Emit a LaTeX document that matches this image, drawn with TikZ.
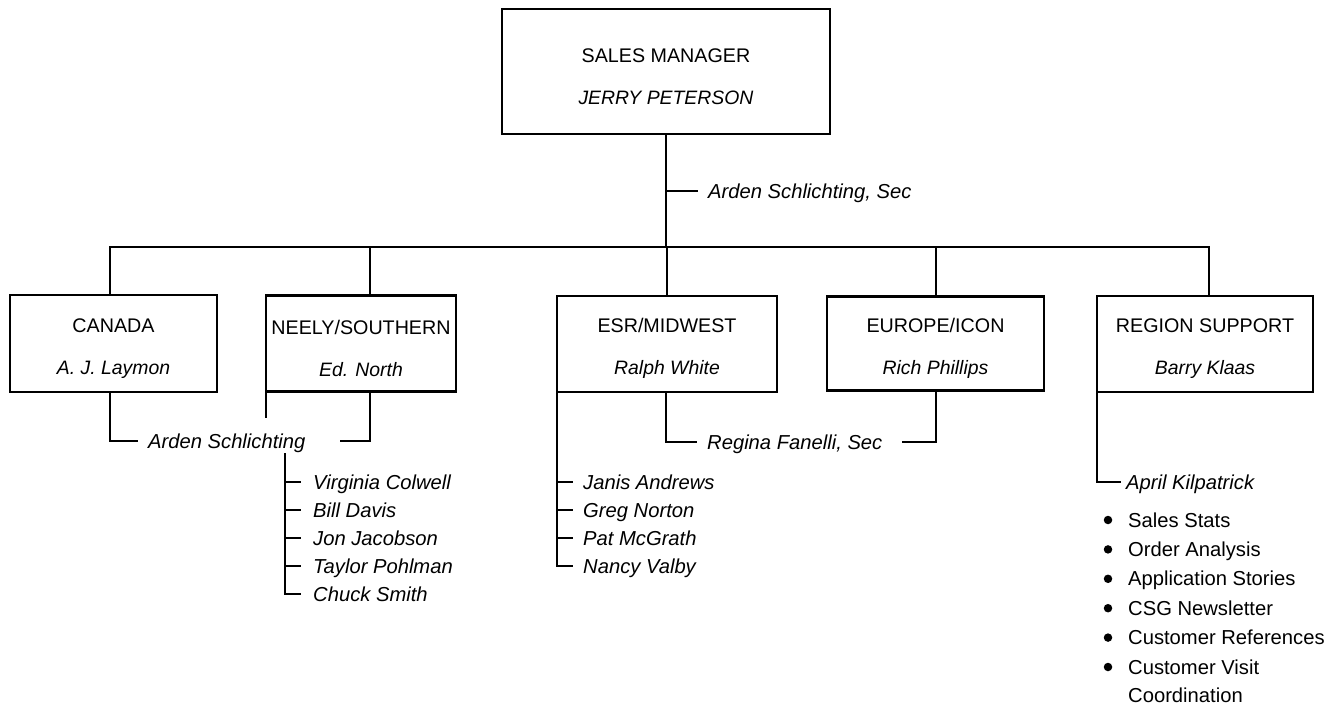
\documentclass[tikz,border=0pt]{standalone}
\usepackage{fontspec}
\setmainfont{Liberation Sans}
\newcommand{\chartfont}{\fontsize{20.2}{42}\selectfont}
\newcommand{\titlefont}{\fontsize{19.7}{42}\selectfont}
% person named inside a box, a little smaller than the title
\newcommand{\boxname}[1]{\fontsize{19.4}{42}\selectfont\itshape #1}
% strut that lowers the two text lines inside a box
\newcommand{\topstrut}{\rule{0pt}{24pt}}
\begin{document}
\begin{tikzpicture}[x=1pt,y=-1pt,
  box/.style={draw,line width=2.7pt,inner sep=0pt,align=center,font=\titlefont},
  link/.style={line width=1.9pt},
  lbl/.style={inner sep=0pt,text height=14pt,text depth=0pt,anchor=west,font=\chartfont\itshape},
  item/.style={lbl,font=\chartfont},
  dot/.style={circle,fill=black,inner sep=0pt,minimum size=8.5pt}]
\useasboundingbox (0,0) rectangle (1340,706);

% department boxes
\node[box,minimum width=328pt,minimum height=125pt] (top) at (666,71.5) {\topstrut SALES MANAGER\\\boxname{JERRY PETERSON}};
\node[box,minimum width=207pt,minimum height=97pt] (can) at (113.5,343.5) {\topstrut CANADA\\\boxname{A. J. Laymon}};
\node[box,minimum width=190pt,minimum height=96pt] (nee) at (361,343.5) {\topstrut NEELY/SOUTHERN\\\boxname{Ed. North}};
\node[box,minimum width=220pt,minimum height=96pt] (esr) at (667,344) {\topstrut ESR/MIDWEST\\\boxname{Ralph White}};
\node[box,minimum width=217pt,minimum height=94pt] (eur) at (935.5,343.5) {\topstrut EUROPE/ICON\\\boxname{Rich Phillips}};
\node[box,minimum width=216pt,minimum height=96pt] (reg) at (1205,344) {\topstrut REGION SUPPORT\\\boxname{Barry Klaas}};

% attachment points of the drop lines
\coordinate (bus) at (666,247);
\coordinate (canT) at ([xshift=-3.5pt]can.north);
\coordinate (neeT) at ([xshift=9pt]nee.north);
\coordinate (eurT) at ([xshift=0.5pt]eur.north);
\coordinate (regT) at ([xshift=4pt]reg.north);
\coordinate (canB) at ([xshift=-3.5pt]can.south);
\coordinate (neeB) at ([xshift=9pt]nee.south);
\coordinate (esrB) at ([xshift=-1pt]esr.south);
\coordinate (eurB) at ([xshift=0.5pt]eur.south);
\coordinate (neeL) at ([xshift=1.35pt,yshift=1.35pt]nee.south west);
\coordinate (esrL) at ([xshift=1.35pt,yshift=1.35pt]esr.south west);
\coordinate (regL) at ([xshift=1.35pt,yshift=1.35pt]reg.south west);

% main tree
\draw[link] (top.south) -- (bus);
\draw[link] (canT) |- (bus) -| (regT);
\draw[link] (neeT) -- (neeT |- bus);
\draw[link] (esr.north) -- (esr.north |- bus);
\draw[link] (eurT) -- (eurT |- bus);

% secretaries
\node[lbl] (sec1) at (708,191) {Arden Schlichting, Sec};
\draw[link] (top.south |- sec1.west) -- ([xshift=-10pt]sec1.west);

\node[lbl] (sec2) at (148,441) {Arden Schlichting};
\coordinate (sec2r) at (340,441);
\draw[link] (canB) |- ([xshift=-10pt]sec2.west);
\draw[link] (neeB) |- (sec2r);

\node[lbl] (sec3) at (707,442) {Regina Fanelli, Sec};
\coordinate (sec3r) at (902,442);
\draw[link] (esrB) |- ([xshift=-10pt]sec3.west);
\draw[link] (eurB) |- (sec3r);

% NEELY/SOUTHERN staff
\coordinate (neeStub) at (266,418);
\draw[link] (neeL) -- (neeL |- neeStub);
\coordinate (neeList) at (285,453);
\foreach \n [count=\i] in {Virginia Colwell,Bill Davis,Jon Jacobson,Taylor Pohlman,Chuck Smith}
  \node[lbl] (nl\i) at (313,454+28*\i) {\n};
\draw[link] (neeList) |- ([xshift=-12pt]nl5.west);
\foreach \i in {1,...,4}
  \draw[link] (neeList |- nl\i.west) -- ([xshift=-12pt]nl\i.west);

% ESR/MIDWEST staff
\foreach \n [count=\i] in {Janis Andrews,Greg Norton,Pat McGrath,Nancy Valby}
  \node[lbl] (el\i) at (583,454+28*\i) {\n};
\draw[link] (esrL) |- ([xshift=-10pt]el4.west);
\foreach \i in {1,...,3}
  \draw[link] (esrL |- el\i.west) -- ([xshift=-10pt]el\i.west);

% REGION SUPPORT staff and duties
\node[lbl] (apr) at (1126,482) {April Kilpatrick};
\draw[link] (regL) |- ([xshift=-5pt]apr.west);
\foreach \n [count=\i] in {Sales Stats,Order Analysis,Application Stories,CSG Newsletter,Customer References,Customer Visit}{
  \node[dot] (d\i) at (1108,490.6+29.4*\i) {};
  \node[item] (t\i) at (1128,490.6+29.4*\i) {\n};
}
\node[item] (t7) at (1128,695.5) {Coordination};
\end{tikzpicture}
\end{document}
